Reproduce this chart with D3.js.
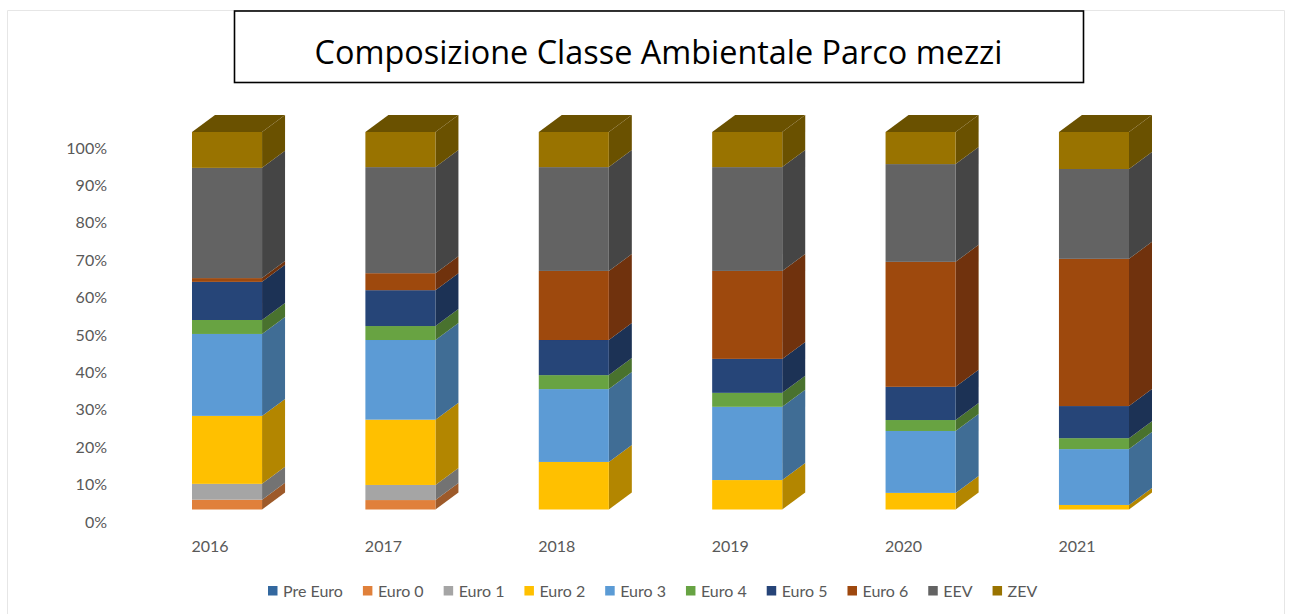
<!DOCTYPE html>
<html><head><meta charset="utf-8">
<script src="https://cdn.jsdelivr.net/npm/d3@7"></script>
<style>
html,body{margin:0;padding:0;background:#fff;overflow:hidden}
svg{display:block}
text{font-family:Lato,sans-serif;fill:#595959}
</style></head><body>
<svg id="c" width="1290" height="614"></svg>
<script>
const titleText = "Composizione Classe Ambientale Parco mezzi";
const years = ["2016","2017","2018","2019","2020","2021"];
const seriesNames = ["Pre Euro","Euro 0","Euro 1","Euro 2","Euro 3","Euro 4","Euro 5","Euro 6","EEV","ZEV"];
const seriesColors = ["#33689f","#e0803a","#a5a5a5","#ffc000","#5b9bd5","#67a343","#264478","#9e480e","#636363","#997300"];
const preEuro = [0,0,0,0,0,0];
const euro0 = [2.6,2.5,0,0,0,0];
const euro1 = [4.2,4.0,0,0,0,0];
const euro2 = [18.0,17.3,12.6,7.8,4.4,1.2];
const euro3 = [21.7,21.1,19.3,19.4,16.4,14.8];
const euro4 = [3.7,3.7,3.7,3.7,2.9,2.9];
const euro5 = [10.1,9.5,9.3,9.0,8.8,8.5];
const euro6 = [1.0,4.5,18.3,23.3,33.1,39.0];
const eev = [29.2,28.1,27.5,27.5,25.9,23.8];
const zev = [9.5,9.3,9.3,9.3,8.5,9.8];
const seriesValues = [preEuro,euro0,euro1,euro2,euro3,euro4,euro5,euro6,eev,zev];
const tickValues = [0,10,20,30,40,50,60,70,80,90,100];

const svg = d3.select("#c");
const depthX = 23, depthY = 17;

const defs = svg.append("defs");
defs.append("filter").attr("id","soft").append("feGaussianBlur").attr("stdDeviation",0.45);

// Frame
svg.append("path").attr("d","M7.5,614V10.5H1284.5V614").attr("fill","none").attr("stroke","#e6e6e6").attr("stroke-width",1);

const rows = years.map((y,i)=>{
  const r = {year:y};
  seriesNames.forEach((s,k)=>{ r[s]=seriesValues[k][i]; });
  return r;
});
const stacked = d3.stack().keys(seriesNames)(rows);

const x = d3.scaleBand().domain(years).range([192,1129]).paddingInner(0.596).paddingOuter(0);
const y = d3.scaleLinear().domain([0,100]).range([509.5,132]);
const yAxisScale = d3.scaleLinear().domain([0,100]).range([522,148]);

const color = d3.scaleOrdinal().domain(seriesNames).range(seriesColors);
const darker = c => { const h=d3.rgb(c); return d3.rgb(h.r*0.7,h.g*0.7,h.b*0.7).formatHex(); };

const marks = svg.append("g").attr("filter","url(#soft)");
const layer = marks.selectAll("g.layer").data(stacked).join("g").attr("class","layer");

// side faces
layer.selectAll("path.side").data(s=>s.map((d,i)=>({key:s.key,y0:d[0],y1:d[1],yr:years[i]})).filter(d=>d.y1>d.y0))
  .join("path").attr("class","side")
  .attr("fill",d=>darker(color(d.key)))
  .attr("d",d=>{
    const r=x(d.yr)+x.bandwidth();
    return `M${r},${y(d.y0)}L${r+depthX},${y(d.y0)-depthY}L${r+depthX},${y(d.y1)-depthY}L${r},${y(d.y1)}Z`;
  });
// front faces
layer.selectAll("rect.front").data(s=>s.map((d,i)=>({key:s.key,y0:d[0],y1:d[1],yr:years[i]})).filter(d=>d.y1>d.y0))
  .join("rect").attr("class","front")
  .attr("x",d=>x(d.yr)).attr("width",x.bandwidth())
  .attr("y",d=>y(d.y1)).attr("height",d=>y(d.y0)-y(d.y1))
  .attr("fill",d=>color(d.key));
// top caps
marks.selectAll("path.top").data(years).join("path").attr("class","top")
  .attr("fill",darker(color("ZEV")))
  .attr("d",yr=>{
    const l=x(yr), r=l+x.bandwidth(), t=y(100);
    return `M${l},${t}L${l+depthX},${t-depthY}L${r+depthX},${t-depthY}L${r},${t}Z`;
  });

// Axes
const yAxis = svg.append("g").attr("transform","translate(107,0)")
  .call(d3.axisLeft(yAxisScale).tickValues(tickValues).tickFormat(d=>d+"%").tickSize(0).tickPadding(0));
yAxis.select(".domain").remove();
yAxis.selectAll("text").style("font-family","Lato,sans-serif").style("font-size","16px").attr("fill","#595959");

const xAxis = svg.append("g").attr("transform","translate(-17,541)")
  .call(d3.axisBottom(x).tickSize(0).tickPadding(0));
xAxis.select(".domain").remove();
xAxis.selectAll("text").style("font-family","Lato,sans-serif").style("font-size","16px").attr("fill","#595959");

// Legend
const lg = svg.append("g").attr("transform","translate(0,591)");
let cx = 268;
seriesNames.forEach(n=>{
  const g = lg.append("g").attr("transform",`translate(${cx},0)`);
  g.append("rect").attr("y",-5).attr("width",9.5).attr("height",9.5).attr("fill",color(n));
  const t = g.append("text").attr("x",15).attr("y",5.5).style("font-size","16px").text(n);
  cx += 15 + t.node().getComputedTextLength() + 20;
});

// Title box
svg.append("rect").attr("x",234.5).attr("y",11).attr("width",849).attr("height",71.5)
  .attr("fill","#fff").attr("stroke","#000").attr("stroke-width",1.6);
svg.append("text").attr("x",658.5).attr("y",64).attr("text-anchor","middle")
  .style("font-family","'Open Sans',sans-serif").style("font-size","32.4px").style("fill","#000").text(titleText);
</script>
</body></html>
